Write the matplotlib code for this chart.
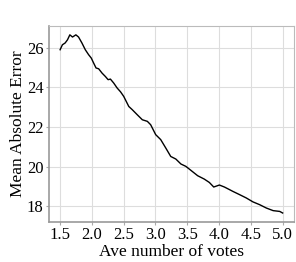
import numpy as np
import matplotlib
matplotlib.use("Agg")
import matplotlib.pyplot as plt

# --- data ---
ave_votes = [1.50, 1.536, 1.579, 1.616, 1.653, 1.695, 1.748, 1.79, 1.843, 1.896,
             1.948, 1.99, 2.027, 2.065, 2.106, 2.16, 2.212, 2.255, 2.291, 2.343,
             2.397, 2.45, 2.50, 2.58, 2.634, 2.714, 2.793, 2.872, 2.924, 3.003,
             3.082, 3.161, 3.24, 3.32, 3.40, 3.478, 3.557, 3.663, 3.767, 3.847,
             3.916, 4.005, 4.084, 4.163, 4.217, 4.32, 4.427, 4.533, 4.638, 4.744,
             4.85, 4.954, 5.00]
mae = [25.90, 26.15, 26.24, 26.40, 26.65, 26.54, 26.65, 26.54, 26.24, 25.90,
       25.65, 25.48, 25.23, 24.98, 24.94, 24.72, 24.55, 24.39, 24.42, 24.22,
       23.97, 23.78, 23.55, 23.04, 22.88, 22.62, 22.37, 22.29, 22.12, 21.62,
       21.37, 20.95, 20.52, 20.39, 20.14, 20.02, 19.82, 19.55, 19.38, 19.21,
       18.98, 19.08, 18.98, 18.85, 18.76, 18.60, 18.43, 18.23, 18.09, 17.92,
       17.79, 17.75, 17.67]
x_ticks = [1.5, 2.0, 2.5, 3.0, 3.5, 4.0, 4.5, 5.0]
y_ticks = [18, 20, 22, 24, 26]

plt.rcParams["font.family"] = ["Liberation Serif", "DejaVu Serif"]

fig = plt.figure(figsize=(2.96, 2.62), dpi=100)
ax = fig.add_axes([0.1655, 0.153, 0.827, 0.748])

ax.plot(ave_votes, mae, color="black", linewidth=1.0)

ax.set_xticks(x_ticks)
ax.set_xticklabels([f"{t:.1f}" for t in x_ticks])
ax.set_yticks(y_ticks)
ax.grid(True, color="#dddddd", linewidth=0.8)
ax.set_axisbelow(True)
ax.tick_params(length=2.5, width=0.8, color="#aaaaaa", labelsize=12,
               pad=1.5, labelcolor="black")

for side in ["left", "bottom"]:
    ax.spines[side].set_color("#999999")
    ax.spines[side].set_linewidth(1.2)
for side in ["top", "right"]:
    ax.spines[side].set_color("#bbbbbb")
    ax.spines[side].set_linewidth(0.8)

ax.set_xlabel("Ave number of votes", fontsize=12.5)
ax.set_ylabel("Mean Absolute Error", fontsize=12.5)
ax.xaxis.set_label_coords(0.5, -0.112)
ax.yaxis.set_label_coords(-0.095, 0.5)

fig.savefig("out.png", dpi=100)
